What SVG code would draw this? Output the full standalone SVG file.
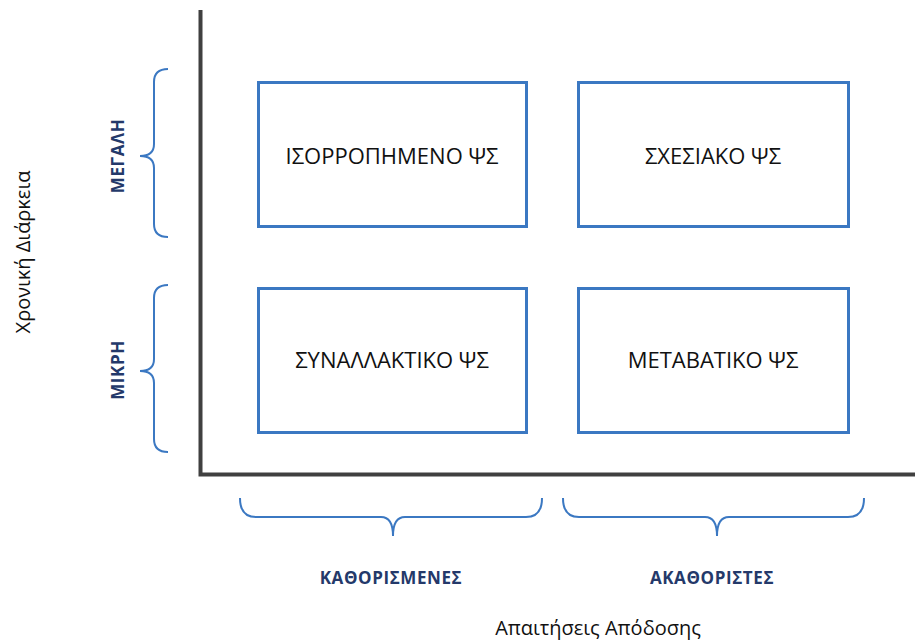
<svg xmlns="http://www.w3.org/2000/svg" width="915" height="642" viewBox="0 0 915 642">
<style>
.box{fill:#fff;stroke:#3b78c2;stroke-width:3}
.bt{font-family:"Open Sans","Liberation Sans",sans-serif;font-size:22px;fill:#111;text-anchor:middle}
.brace{fill:none;stroke:#3b78c2;stroke-width:2}
.cat{font-family:"Open Sans","Liberation Sans",sans-serif;font-size:17px;font-weight:bold;fill:#24396a;text-anchor:middle;letter-spacing:0.6px}
.ax{font-family:"Open Sans","Liberation Sans",sans-serif;font-size:20px;fill:#111;text-anchor:middle}
.axis{fill:none;stroke:#404040;stroke-width:4}
</style>
<rect width="915" height="642" fill="#fff"/>
<g id="axes">
<path class="axis" d="M200.5,10 V474.5 H915"/>
</g>
<g id="node-isorropimeno">
<rect class="box" x="258.5" y="82.5" width="268" height="144"/>
<text class="bt" x="392" y="164">ΙΣΟΡΡΟΠΗΜΕΝΟ ΨΣ</text>
</g>
<g id="node-sxesiako">
<rect class="box" x="578.5" y="82.5" width="270" height="144"/>
<text class="bt" x="713" y="164">ΣΧΕΣΙΑΚΟ ΨΣ</text>
</g>
<g id="node-synallaktiko">
<rect class="box" x="258.5" y="288.5" width="268" height="144"/>
<text class="bt" x="392" y="368">ΣΥΝΑΛΛΑΚΤΙΚΟ ΨΣ</text>
</g>
<g id="node-metabatiko">
<rect class="box" x="578.5" y="288.5" width="270" height="144"/>
<text class="bt" x="713" y="368">ΜΕΤΑΒΑΤΙΚΟ ΨΣ</text>
</g>
<g id="braces">
<path class="brace" d="M168,69 Q154,69 154,82 L154,144 Q154,156 140,156 Q154,156 154,168 L154,224 Q154,237 168,237"/>
<path class="brace" d="M168,285 Q154,285 154,298 L154,359 Q154,371 140,371 Q154,371 154,383 L154,439 Q154,452 168,452"/>
<path class="brace" d="M240,498 Q240,517 256,517 L381,517 Q393,517 393,536 Q393,517 405,517 L526,517 Q542,517 542,498"/>
<path class="brace" d="M563,498 Q563,517 579,517 L705,517 Q717,517 717,536 Q717,517 729,517 L848,517 Q864,517 864,498"/>
</g>
<g id="labels">
<text class="cat" transform="translate(124,156) rotate(-90)">ΜΕΓΑΛΗ</text>
<text class="cat" transform="translate(124,370) rotate(-90)">ΜΙΚΡΗ</text>
<text class="cat" x="391" y="584">ΚΑΘΟΡΙΣΜΕΝΕΣ</text>
<text class="cat" x="712" y="584">ΑΚΑΘΟΡΙΣΤΕΣ</text>
<text class="ax" x="598" y="635">Απαιτήσεις Απόδοσης</text>
<text class="ax" transform="translate(30,252) rotate(-90)">Χρονική Διάρκεια</text>
</g>
</svg>
